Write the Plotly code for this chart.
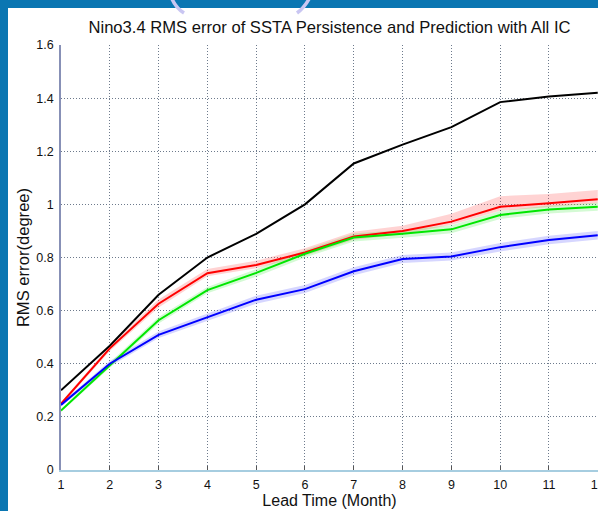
import plotly.graph_objects as go

# Lead time in months
lead = [1, 2, 3, 4, 5, 6, 7, 8, 9, 10, 11, 12]

# RMS error of SSTA persistence (black) and prediction ensembles
persistence = [0.30, 0.468, 0.66, 0.80, 0.889, 1.00, 1.154, 1.225, 1.291, 1.385, 1.406, 1.42]
pred_red = [0.249, 0.458, 0.626, 0.741, 0.772, 0.819, 0.879, 0.90, 0.935, 0.991, 1.004, 1.019]
pred_green = [0.224, 0.395, 0.564, 0.677, 0.742, 0.814, 0.875, 0.889, 0.906, 0.96, 0.981, 0.991]
pred_blue = [0.245, 0.40, 0.509, 0.575, 0.641, 0.681, 0.748, 0.794, 0.804, 0.839, 0.866, 0.884]

# Ensemble spread (upper / lower offsets) around each prediction curve
red_up = [0.006, 0.01, 0.016, 0.016, 0.016, 0.016, 0.018, 0.02, 0.03, 0.04, 0.035, 0.035]
red_dn = [0.006, 0.01, 0.014, 0.012, 0.012, 0.012, 0.012, 0.012, 0.012, 0.015, 0.015, 0.015]
green_sp = [0.006, 0.01, 0.012, 0.012, 0.014, 0.014, 0.015, 0.015, 0.015, 0.015, 0.015, 0.015]
blue_sp = [0.006, 0.01, 0.012, 0.014, 0.015, 0.015, 0.015, 0.015, 0.015, 0.016, 0.016, 0.016]

y_ticks = [0, 0.2, 0.4, 0.6, 0.8, 1.0, 1.2, 1.4, 1.6]
y_labels = ["0", "0.2", "0.4", "0.6", "0.8", "1", "1.2", "1.4", "1.6"]
x_ticks = lead

W, H = 598, 511
ML, MR, MT, MB = 61, 0, 45, 41
PW, PH = W - ML - MR, H - MT - MB


def px(x):
    return (x - ML) / PW


def py(y):
    return (H - MB - y) / PH


FONT = "Liberation Sans, Arial, sans-serif"

fig = go.Figure()


def band(x, mid, up, dn, color):
    upper = [m + u for m, u in zip(mid, up)]
    lower = [m - d for m, d in zip(mid, dn)]
    fig.add_trace(go.Scatter(x=x + x[::-1], y=upper + lower[::-1], fill="toself",
                             fillcolor=color, line=dict(width=0), hoverinfo="skip",
                             showlegend=False, mode="lines"))


band(lead, pred_red, red_up, red_dn, "rgba(255,80,80,0.25)")
band(lead, pred_green, green_sp, green_sp, "rgba(60,230,60,0.22)")
band(lead, pred_blue, blue_sp, blue_sp, "rgba(90,90,255,0.25)")

for vals, col in [(persistence, "#000000"), (pred_red, "#ff0000"),
                  (pred_green, "#00e600"), (pred_blue, "#0000ff")]:
    fig.add_trace(go.Scatter(x=lead, y=vals, mode="lines",
                             line=dict(color=col, width=2), showlegend=False))

shapes = [
    # white slide panel behind the axes
    dict(type="rect", xref="paper", yref="paper", x0=px(8), x1=px(W + 5),
         y0=py(H + 5), y1=py(8), fillcolor="white", line=dict(width=0), layer="below"),
    # decorative lavender arc at the top of the slide
    dict(type="path", xref="paper", yref="paper",
         path=f"M {px(172)} {py(-1)} Q {px(176)} {py(8)} {px(184)} {py(13)}",
         line=dict(color="#c9c6f2", width=3.5), layer="above"),
    dict(type="path", xref="paper", yref="paper",
         path=f"M {px(309)} {py(-1)} Q {px(304)} {py(8)} {px(297)} {py(13)}",
         line=dict(color="#c9c6f2", width=3.5), layer="above"),
]

fig.update_layout(
    width=W, height=H,
    margin=dict(l=ML, r=MR, t=MT, b=MB, pad=0),
    paper_bgcolor="#0a76b2",
    plot_bgcolor="white",
    showlegend=False,
    shapes=shapes,
    font=dict(family=FONT, color="#111111"),
    title=dict(text="Nino3.4 RMS error of SSTA Persistence and Prediction with All IC",
               x=0.5, xref="paper", xanchor="center", y=1 - 27 / H, yanchor="middle",
               font=dict(size=16.6, family=FONT, color="#111111")),
    xaxis=dict(range=[1, 12.005], tickvals=x_ticks, ticktext=[str(v) for v in x_ticks],
               automargin=False,
               showgrid=True, gridcolor="#6d7a8c", griddash="1px,2px", gridwidth=1,
               showline=True, linecolor="#a6cde0", linewidth=1.5, mirror=False,
               ticks="inside", ticklen=4, tickcolor="#555555",
               ticklabelstandoff=2, ticklabeloverflow="allow",
               tickfont=dict(size=12.5, family=FONT, color="#111111"),
               zeroline=False,
               title=dict(text="Lead Time (Month)", standoff=1,
                          font=dict(size=16, family=FONT, color="#111111"))),
    yaxis=dict(range=[0, 1.6], tickvals=y_ticks, ticktext=y_labels,
               automargin=False,
               showgrid=True, gridcolor="#6d7a8c", griddash="1px,2px", gridwidth=1,
               showline=True, linecolor="#8790b6", linewidth=1.8,
               ticks="", ticklabelstandoff=3,
               tickfont=dict(size=12.5, family=FONT, color="#111111"),
               zeroline=False,
               title=dict(text="RMS error(degree)", standoff=2,
                          font=dict(size=16.6, family=FONT, color="#111111"))),
)

fig.write_html("out.html")
